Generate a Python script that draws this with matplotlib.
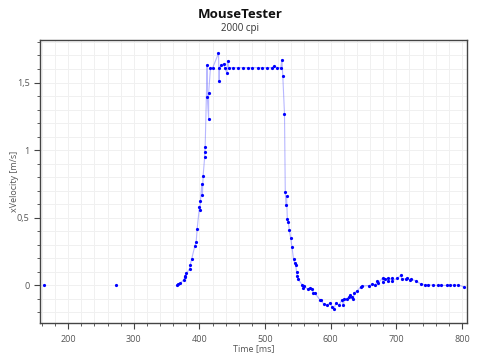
import matplotlib.pyplot as plt
from matplotlib.ticker import MultipleLocator, FuncFormatter

# time [ms] and x velocity [m/s]
time_ms = [163, 273,
           366, 368, 371, 376, 377.5, 378.6, 380, 385, 386, 388, 393, 395, 396.5,
           400, 400.5, 401.5, 403.5, 404.6, 405.6, 408, 408, 408.7,
           411.7, 412, 414, 414, 416.8, 420.3, 429, 430, 430.5, 433.6, 437, 438.2,
           442, 443, 444.7, 451.5, 459.5, 466.7, 473.7, 480.5, 488.5, 495.7, 502.3,
           510, 514, 518.6, 524, 525.6, 527, 529.6,
           530.8, 531.8, 532.8, 533.9, 535.4, 537, 539, 541, 543.5, 545, 546.6, 548,
           549, 550, 556.8, 558.3, 560, 565, 568, 571.5, 573.5, 576, 583.7, 584.7,
           589.8, 595, 599, 602, 605, 607.6, 612.7, 616.8, 619.4, 620.3, 624.4, 628,
           629.5, 633, 634.7, 635.6, 640.7, 645.8, 648.4, 658.5, 663.6, 667.6, 671.3,
           672.8, 679, 679, 682.4, 686.6, 688, 692.7, 694, 701.8, 706.9, 708.4,
           714.5, 717, 721, 723, 729.8, 737.4, 743.5, 748.5, 756, 762.8, 768, 776.6,
           782, 788, 794, 803]
x_velocity = [0.0, 0.0,
              0.0, 0.01, 0.015, 0.04, 0.057, 0.067, 0.087, 0.12, 0.15, 0.19, 0.29, 0.32, 0.415,
              0.58, 0.555, 0.62, 0.75, 0.67, 0.81, 0.95, 0.985, 1.02,
              1.63, 1.39, 1.23, 1.42, 1.61, 1.61, 1.716, 1.51, 1.61, 1.63, 1.64, 1.61,
              1.57, 1.66, 1.61, 1.61, 1.61, 1.61, 1.61, 1.61, 1.61, 1.61, 1.61,
              1.61, 1.62, 1.61, 1.61, 1.67, 1.55, 1.267,
              0.687, 0.595, 0.66, 0.49, 0.47, 0.405, 0.35, 0.28, 0.19, 0.165, 0.15, 0.10,
              0.067, 0.047, 0.0, -0.02, -0.01, -0.03, -0.02, -0.03, -0.055, -0.06, -0.11, -0.11,
              -0.143, -0.148, -0.13, -0.16, -0.18, -0.136, -0.148, -0.11, -0.15, -0.106, -0.1, -0.086,
              -0.074, -0.086, -0.106, -0.057, -0.042, -0.012, -0.007, -0.003, 0.005, 0.003, 0.027,
              0.017, 0.052, 0.022, 0.042, 0.05, 0.03, 0.052, 0.032, 0.052, 0.072, 0.044,
              0.047, 0.052, 0.037, 0.042, 0.032, 0.007, 0.002, 0.002, 0.0, -0.002, -0.002, -0.002,
              0.0, 0.0, 0.0, -0.012]

plt.rcParams['font.family'] = ['Open Sans', 'DejaVu Sans']

fig = plt.figure(figsize=(4.8, 3.6), dpi=100)
ax = fig.add_axes([0.0833, 0.103, 0.89, 0.786])

# faint connecting line (the two isolated samples at the start are not joined)
ax.plot(time_ms[2:], x_velocity[2:], color='#4d4dff', alpha=0.4, lw=0.8, zorder=2)
ax.plot(time_ms, x_velocity, ls='none', marker='o', ms=2.3, color='#0000ff',
        mew=0, zorder=3)

ax.set_xlim(157, 808)
ax.set_ylim(-0.28, 1.815)
ax.xaxis.set_major_locator(MultipleLocator(100))
ax.xaxis.set_minor_locator(MultipleLocator(20))
ax.yaxis.set_major_locator(MultipleLocator(0.5))
ax.yaxis.set_minor_locator(MultipleLocator(0.1))
ax.yaxis.set_major_formatter(FuncFormatter(lambda v, p: ('%g' % v).replace('.', ',')))

ax.grid(which='both', color='#f0f0f0', lw=0.7, zorder=0)
ax.set_axisbelow(True)
for s in ax.spines.values():
    s.set_color('#444444')
    s.set_linewidth(1.0)
ax.tick_params(which='both', direction='out', colors='#444444', labelcolor='#555555',
               labelsize=6.5)
ax.tick_params(which='major', length=4)
ax.tick_params(which='minor', length=2.5)
ax.tick_params(axis='x', pad=5)

ax.set_xlabel('Time [ms]', fontsize=6.5, color='#555555', labelpad=0)
ax.set_ylabel('xVelocity [m/s]', fontsize=6.5, color='#555555')
ax.yaxis.set_label_coords(-0.048, 0.5)

fig.text(0.5, 0.96, 'MouseTester', ha='center', va='center', fontsize=9.5,
         fontweight='bold', color='#111111')
fig.text(0.5, 0.922, '2000 cpi', ha='center', va='center', fontsize=7, color='#333333')

fig.savefig('out.png', dpi=100)
